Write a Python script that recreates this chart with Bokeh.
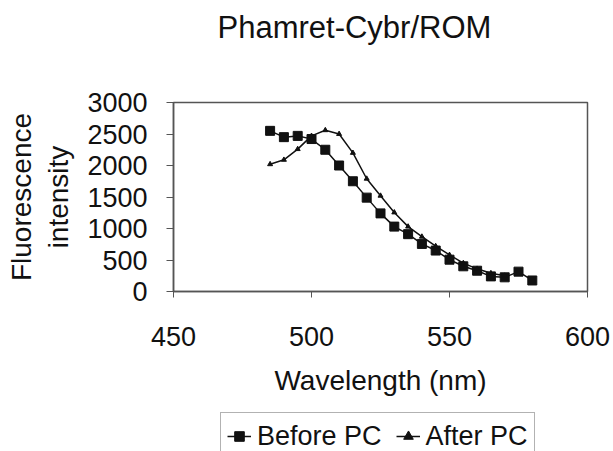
from bokeh.plotting import figure
from bokeh.layouts import column
from bokeh.models import Range1d, Legend, LegendItem, FixedTicker, Title
from bokeh.embed import file_html
from bokeh.resources import INLINE

wavelength_before = [485, 490, 495, 500, 505, 510, 515, 520, 525, 530,
                     535, 540, 545, 550, 555, 560, 565, 570, 575, 580]
before_pc = [2550, 2450, 2470, 2420, 2250, 2000, 1750, 1490, 1240, 1030,
             910, 755, 650, 505, 400, 330, 240, 225, 315, 175]

wavelength_after = [485, 490, 495, 500, 505, 510, 515, 520, 525, 530,
                    535, 540, 545, 550, 555, 560, 565, 570]
after_pc = [2020, 2090, 2260, 2470, 2560, 2500, 2200, 1790, 1520, 1255,
            1030, 870, 720, 580, 450, 360, 290, 250]

x_ticks = [450, 500, 550, 600]
y_ticks = [0, 500, 1000, 1500, 2000, 2500, 3000]

FONT = "Liberation Sans"
FS = "27px"
INK = "#111111"


def strip(height):
    f = figure(width=613, height=height, output_backend="svg",
               toolbar_location=None, x_range=Range1d(0, 1),
               y_range=Range1d(0, 1), min_border_left=173,
               min_border_right=26, min_border_top=0, min_border_bottom=0,
               x_axis_type=None, y_axis_type=None)
    f.grid.visible = False
    f.outline_line_color = None
    return f


# Title strip
t = strip(56)
t.title = Title(text="Phamret-Cybr/ROM", align="left", offset=44,
                text_font=FONT, text_font_size="31px",
                text_font_style="normal", text_color=INK, standoff=14)

# Main chart
p = figure(width=613, height=356, output_backend="svg", toolbar_location=None,
           x_range=Range1d(450, 600), y_range=Range1d(0, 3000),
           min_border_left=173, min_border_right=26,
           min_border_top=46, min_border_bottom=121)
p.grid.visible = False
p.outline_line_color = "#555555"
p.outline_line_width = 1.5

for ax in (p.xaxis[0], p.yaxis[0]):
    ax.major_label_text_font = FONT
    ax.major_label_text_font_size = FS
    ax.major_label_text_color = INK
    ax.axis_line_color = "#555555"
    ax.axis_line_width = 1.5
    ax.major_tick_line_color = "#555555"
    ax.major_tick_in = 0
    ax.minor_tick_line_color = None
    ax.axis_label_text_font = FONT
    ax.axis_label_text_font_size = "28px"
    ax.axis_label_text_font_style = "normal"
    ax.axis_label_text_color = INK

p.xaxis.ticker = FixedTicker(ticks=x_ticks)
p.yaxis.ticker = FixedTicker(ticks=y_ticks)
p.xaxis.major_tick_out = 6
p.yaxis.major_tick_out = 7
p.xaxis.major_label_standoff = 29
p.yaxis.major_label_standoff = 19
p.xaxis.axis_label = "Wavelength (nm)"
p.xaxis.axis_label_standoff = 16
p.yaxis.axis_label = "Fluorescence\nintensity"
p.yaxis.axis_label_standoff = 10

p.line(wavelength_before, before_pc, line_color=INK, line_width=1.5)
p.scatter(wavelength_before, before_pc, marker="square", size=9,
          fill_color=INK, line_color=INK)
p.line(wavelength_after, after_pc, line_color=INK, line_width=1.5)
p.scatter(wavelength_after, after_pc, marker="triangle", size=5,
          fill_color=INK, line_color=INK)

# Legend strip below the chart; its renderers hold the same series but the
# strip's ranges keep them out of view, so only the legend shows.
q = strip(39)
ql1 = q.line(wavelength_before, before_pc, line_color=INK, line_width=1.5)
qs1 = q.scatter(wavelength_before, before_pc, marker="square", size=9,
                fill_color=INK, line_color=INK)
ql2 = q.line(wavelength_after, after_pc, line_color=INK, line_width=1.5)
qs2 = q.scatter(wavelength_after, after_pc, marker="triangle", size=5,
                fill_color=INK, line_color=INK)

legend = Legend(items=[LegendItem(label="Before PC", renderers=[ql1, qs1]),
                       LegendItem(label="After PC", renderers=[ql2, qs2])],
                orientation="horizontal", location=(47, -9),
                label_text_font=FONT, label_text_font_size=FS,
                label_text_color=INK, glyph_width=24, glyph_height=34,
                label_height=34, label_standoff=6, spacing=14, padding=6,
                margin=0, border_line_color="#666666", border_line_width=1,
                background_fill_alpha=1.0)
q.add_layout(legend, "center")

layout = column(t, p, q, spacing=0)
open("out.html", "w").write(file_html(layout, INLINE))
